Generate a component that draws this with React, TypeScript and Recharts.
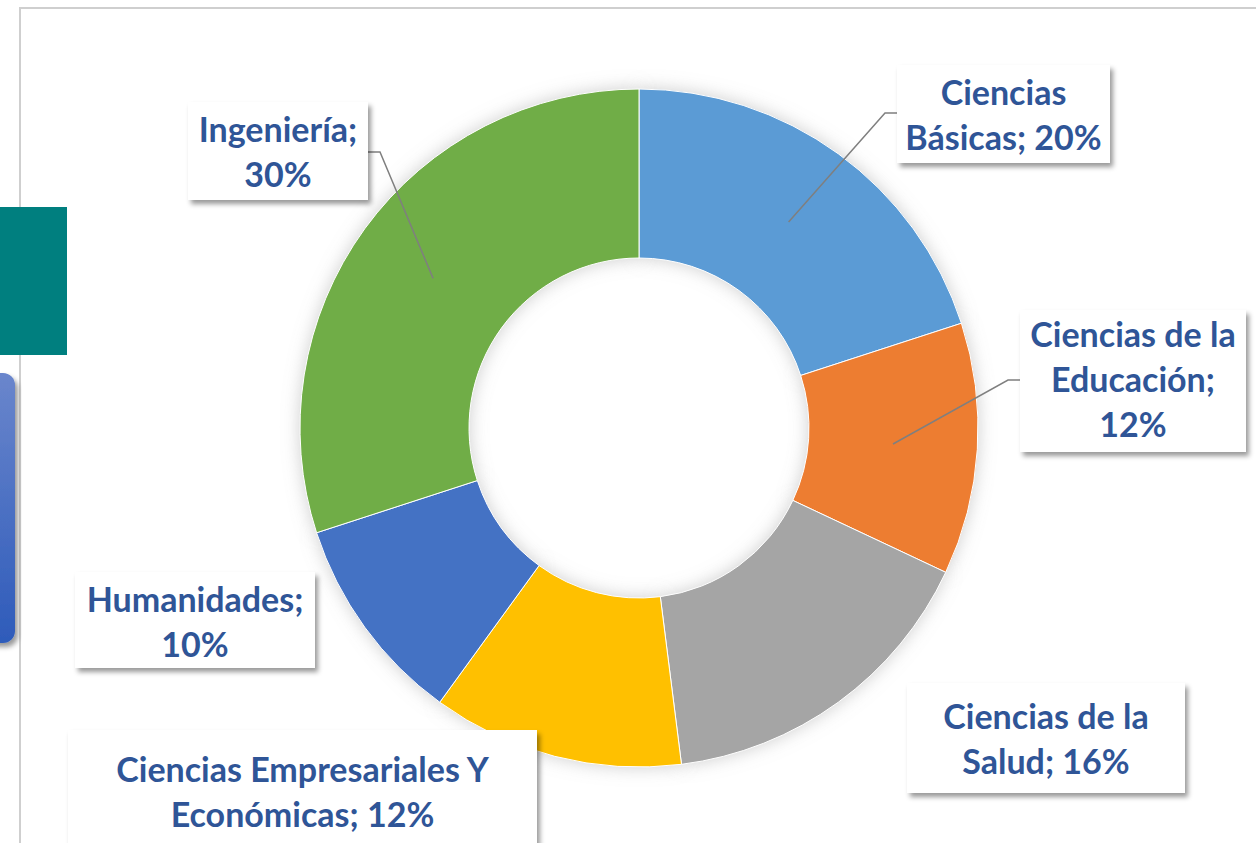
import {Cell, Pie, PieChart} from "recharts";

const categories = [
  "Ciencias Básicas",
  "Ciencias de la Educación",
  "Ciencias de la Salud",
  "Ciencias Empresariales Y Económicas",
  "Humanidades",
  "Ingeniería",
];
const shares = [20, 12, 16, 12, 10, 30];
const sliceColors = ["#5B9BD5", "#ED7D31", "#A5A5A5", "#FFC000", "#4472C4", "#70AD47"];

// words per text line inside each label box
const lineBreaks = [[1, 2], [3, 1, 1], [3, 2], [3, 2], [1, 1], [1, 1]];

// label box placement (x, y, w, h, first baseline) and optional leader elbow
const labelBoxes = [
  {x: 897, y: 65, w: 213, h: 98, base: 105, elbow: [885, 113]},
  {x: 1020, y: 310, w: 226, h: 142, base: 347, elbow: [1008, 380]},
  {x: 907, y: 683, w: 278, h: 110, base: 729, elbow: null},
  {x: 68, y: 730, w: 469, h: 130, base: 782, elbow: null},
  {x: 75, y: 572, w: 240, h: 96, base: 612, elbow: null},
  {x: 188, y: 102, w: 180, h: 98, base: 142, elbow: [380, 152]},
];

const data = categories.map((name, i) => ({name, value: shares[i]}));

const W = 1256;
const H = 843;
const CX = 639;
const CY = 428;
const INNER = 170;
const OUTER = 339;
const LINE_GAP = 45;
const textColor = "#2F5597";
const RAD = Math.PI / 180;

function splitLines(name: string, value: number, breaks: number[]) {
  const words = `${name}; ${value}%`.split(" ");
  const lines: string[] = [];
  let k = 0;
  breaks.forEach((n) => {
    lines.push(words.slice(k, k + n).join(" "));
    k += n;
  });
  return lines;
}

function renderLabel(props: any) {
  const {cx, cy, midAngle, innerRadius, outerRadius, index, name, value} = props;
  const box = labelBoxes[index];
  const lines = splitLines(name, value, lineBreaks[index]);
  const tx = box.x + box.w / 2;
  let leader = null;
  if (box.elbow) {
    const r = (innerRadius + outerRadius) / 2;
    const sx = cx + r * Math.cos(-midAngle * RAD);
    const sy = cy + r * Math.sin(-midAngle * RAD);
    const [ex, ey] = box.elbow;
    const endX = ex > sx ? box.x : box.x + box.w;
    leader = (
      <polyline
        points={`${sx},${sy} ${ex},${ey} ${endX},${ey}`}
        fill="none"
        stroke="#7F7F7F"
        strokeWidth={1.5}
      />
    );
  }
  return (
    <g key={`lbl-${index}`}>
      {leader}
      <rect x={box.x} y={box.y} width={box.w} height={box.h} fill="#fff" filter="url(#boxShadow)" />
      <text
        textAnchor="middle"
        fill={textColor}
        style={{fontFamily: "Lato, 'Open Sans', sans-serif", fontWeight: 700, fontSize: 34}}
      >
        {lines.map((line, i) => (
          <tspan key={i} x={tx} y={box.base + i * LINE_GAP}>
            {line}
          </tspan>
        ))}
      </text>
    </g>
  );
}

export default function App() {
  return (
    <div style={{position: "fixed", left: 0, top: 0, width: W, height: H, background: "#fff", overflow: "hidden"}}>
      <svg width={0} height={0} style={{position: "absolute"}}>
        <defs>
          <filter id="boxShadow" x="-20%" y="-20%" width="140%" height="150%">
            <feDropShadow dx={3} dy={4} stdDeviation={2.5} floodColor="#000" floodOpacity={0.4} />
          </filter>
          <filter id="ringGlow" x="-20%" y="-20%" width="140%" height="140%">
            <feGaussianBlur stdDeviation={9} />
          </filter>
          <linearGradient id="blueTab" x1="0" y1="0" x2="0" y2="1">
            <stop offset="0%" stopColor="#6A86CC" />
            <stop offset="100%" stopColor="#2E5BBA" />
          </linearGradient>
        </defs>
      </svg>

      {/* plot frame */}
      <div
        style={{
          position: "absolute",
          left: 19,
          top: 7,
          width: W,
          height: H,
          borderTop: "2px solid #CFCFCF",
          borderLeft: "2px solid #CFCFCF",
        }}
      />

      <div style={{position: "absolute", left: 0, top: 0}}>
        <PieChart width={W} height={H} margin={{top: 0, right: 0, bottom: 0, left: 0}}>
          <Pie
            data={data}
            dataKey="value"
            nameKey="name"
            cx={CX}
            cy={CY}
            innerRadius={INNER}
            outerRadius={OUTER}
            startAngle={90}
            endAngle={-270}
            stroke="none"
            isAnimationActive={false}
            label={false}
            labelLine={false}
          >
            {data.map((d) => (
              <Cell key={`g-${d.name}`} fill="#9A9A9A" fillOpacity={0.5} filter="url(#ringGlow)" />
            ))}
          </Pie>
          <Pie
            data={data}
            dataKey="value"
            nameKey="name"
            cx={CX}
            cy={CY}
            innerRadius={INNER}
            outerRadius={OUTER}
            startAngle={90}
            endAngle={-270}
            stroke="#fff"
            strokeWidth={1}
            isAnimationActive={false}
            label={renderLabel}
            labelLine={false}
          >
            {data.map((d, i) => (
              <Cell key={d.name} fill={sliceColors[i]} />
            ))}
          </Pie>
        </PieChart>
      </div>

      {/* slide decorations at the left edge */}
      <svg width={80} height={H} style={{position: "absolute", left: 0, top: 0}}>
        <rect x={0} y={207} width={67} height={148} fill="#007F7F" />
        <rect x={-20} y={373} width={35} height={270} rx={12} fill="url(#blueTab)" filter="url(#boxShadow)" />
      </svg>
    </div>
  );
}
